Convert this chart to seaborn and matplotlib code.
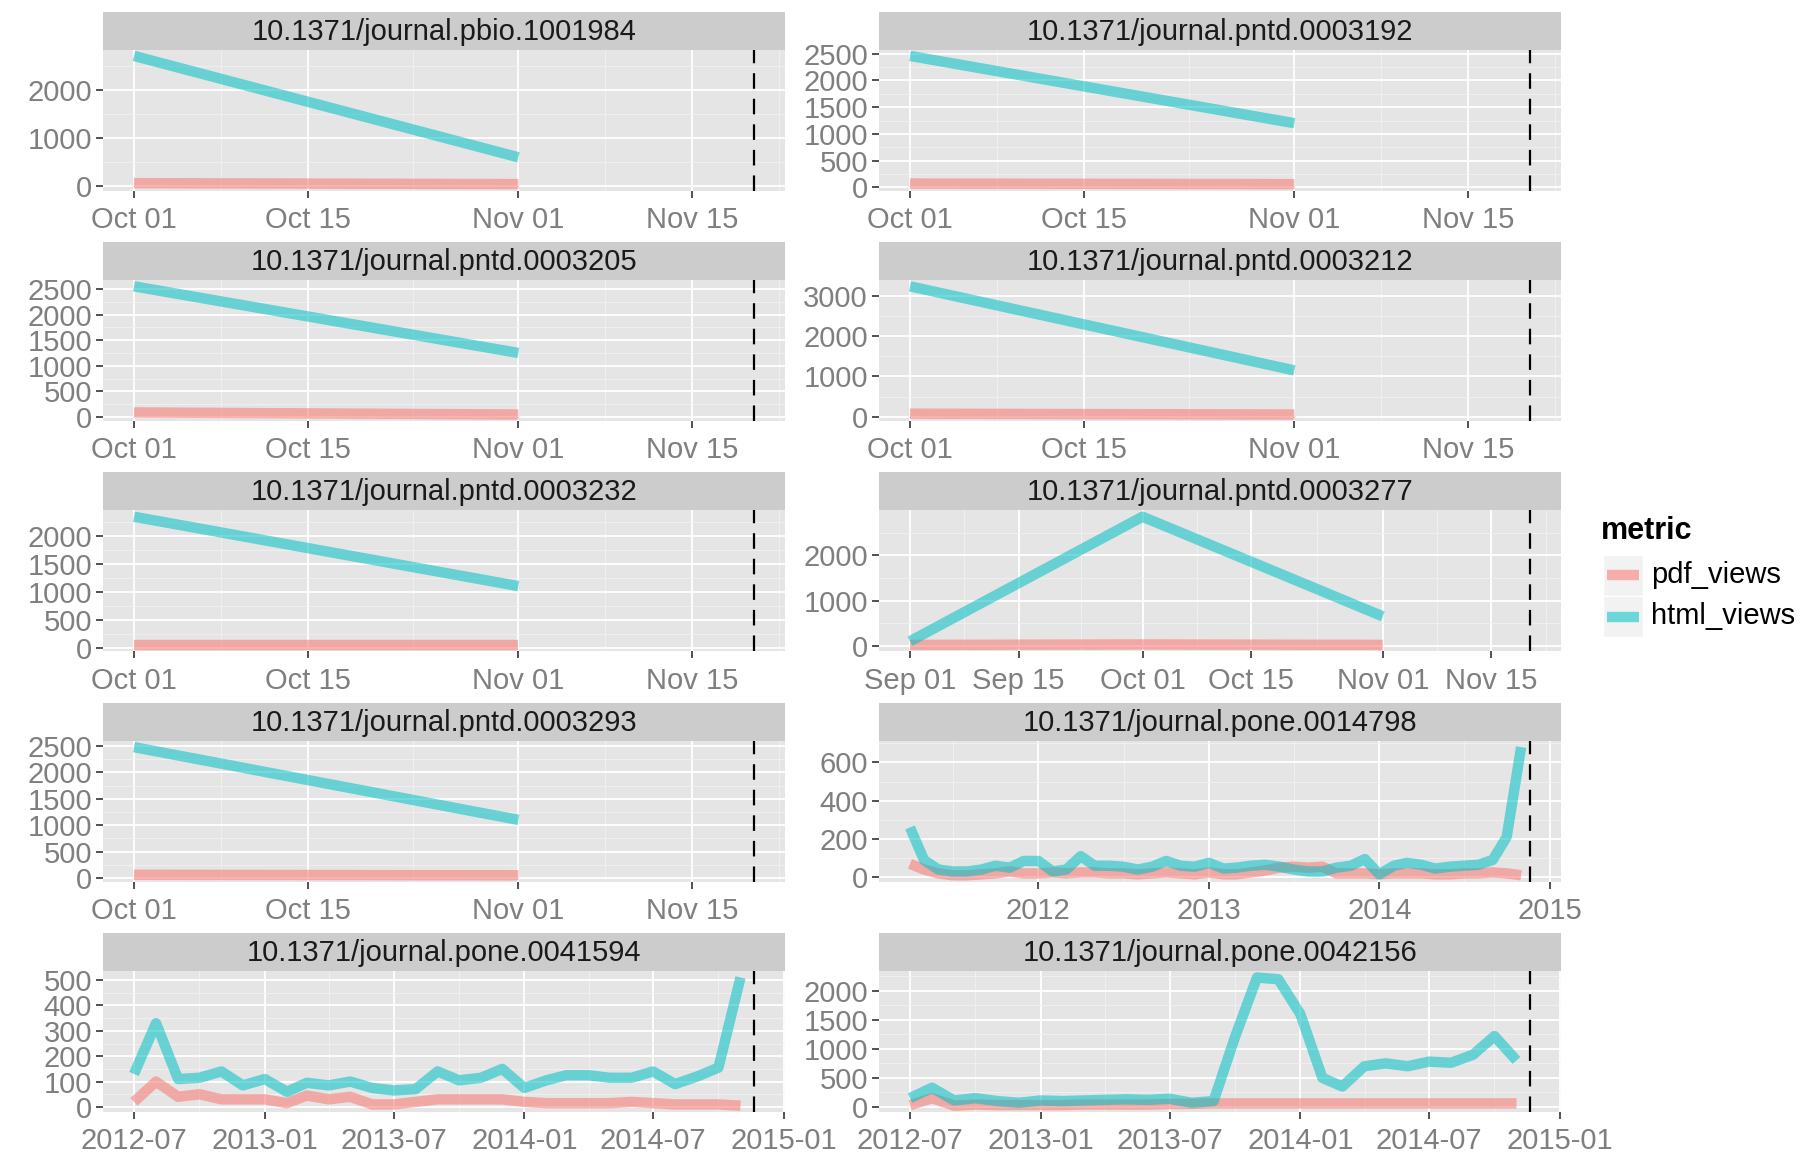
import matplotlib
matplotlib.use("Agg")
import matplotlib.pyplot as plt
import matplotlib.dates as mdates
from matplotlib.lines import Line2D
from matplotlib.patches import Rectangle
import numpy as np
import pandas as pd
import seaborn as sns

PINK = "#F8766D"
TEAL = "#00BFC4"
METRICS = ["pdf_views", "html_views"]
VLINE_DATE = "2014-11-20"

# monthly views per article
pbio_1001984_pdf = [60, 40]
pbio_1001984_html = [2720, 600]
pntd_0003192_pdf = [70, 60]
pntd_0003192_html = [2460, 1200]
pntd_0003205_pdf = [90, 50]
pntd_0003205_html = [2550, 1250]
pntd_0003212_pdf = [80, 60]
pntd_0003212_html = [3230, 1150]
pntd_0003232_pdf = [50, 50]
pntd_0003232_html = [2340, 1100]
pntd_0003277_pdf = [20, 30, 20]
pntd_0003277_html = [100, 2850, 650]
pntd_0003293_pdf = [60, 50]
pntd_0003293_html = [2480, 1100]
pone_0014798_pdf = [70, 40, 20, 10, 10, 15, 20, 30, 20, 20, 25, 20, 25, 25, 20,
                    20, 15, 20, 25, 20, 15, 25, 15, 15, 25, 35, 50, 55, 50, 55,
                    20, 20, 20, 15, 20, 20, 20, 15, 15, 20, 20, 25, 20, 10]
pone_0014798_html = [260, 90, 40, 30, 30, 40, 60, 50, 85, 85, 30, 40, 110, 60, 60,
                     55, 40, 55, 85, 60, 55, 75, 45, 50, 60, 65, 55, 40, 30, 30,
                     50, 60, 95, 15, 60, 75, 65, 45, 55, 60, 65, 90, 210, 680]
pone_0041594_pdf = [20, 100, 40, 50, 30, 30, 30, 15, 45, 30, 40, 10, 10, 20, 30,
                    30, 30, 30, 20, 15, 15, 15, 15, 20, 15, 10, 10, 10, 5]
pone_0041594_html = [130, 330, 110, 115, 140, 85, 110, 60, 95, 85, 100, 75, 65, 70,
                     140, 105, 115, 150, 75, 105, 125, 125, 115, 115, 140, 90, 120,
                     155, 510]
pone_0042156_pdf = [30, 150, 20, 40, 30, 30, 30, 30, 40, 40, 40, 40, 50, 50, 60,
                    60, 60, 60, 60, 60, 60, 60, 60, 60, 60, 60, 60, 60, 60]
pone_0042156_html = [150, 330, 110, 150, 100, 70, 110, 100, 110, 120, 130, 120, 140,
                     70, 100, 1200, 2230, 2200, 1600, 500, 350, 700, 750, 700, 780,
                     760, 900, 1220, 800]

TICKS_OCT = ["2014-10-01", "2014-10-15", "2014-11-01", "2014-11-15"]
TICKS_SEP = ["2014-09-01", "2014-09-15"] + TICKS_OCT
TICKS_YEAR = ["2012-01-01", "2013-01-01", "2014-01-01", "2015-01-01"]
TICKS_HALF = ["2012-07-01", "2013-01-01", "2013-07-01", "2014-01-01",
              "2014-07-01", "2015-01-01"]

Y_1000 = [0, 1000, 2000]
Y_500 = [0, 500, 1000, 1500, 2000, 2500]
Y_3000 = [0, 1000, 2000, 3000]
Y_2000 = [0, 500, 1000, 1500, 2000]
Y_600 = [0, 200, 400, 600]
Y_100 = [0, 100, 200, 300, 400, 500]

# title, first month, pdf, html, x ticks, x tick format, y ticks
PANELS = [
    ("10.1371/journal.pbio.1001984", "2014-10-01", pbio_1001984_pdf, pbio_1001984_html, TICKS_OCT, "%b %d", Y_1000),
    ("10.1371/journal.pntd.0003192", "2014-10-01", pntd_0003192_pdf, pntd_0003192_html, TICKS_OCT, "%b %d", Y_500),
    ("10.1371/journal.pntd.0003205", "2014-10-01", pntd_0003205_pdf, pntd_0003205_html, TICKS_OCT, "%b %d", Y_500),
    ("10.1371/journal.pntd.0003212", "2014-10-01", pntd_0003212_pdf, pntd_0003212_html, TICKS_OCT, "%b %d", Y_3000),
    ("10.1371/journal.pntd.0003232", "2014-10-01", pntd_0003232_pdf, pntd_0003232_html, TICKS_OCT, "%b %d", Y_2000),
    ("10.1371/journal.pntd.0003277", "2014-09-01", pntd_0003277_pdf, pntd_0003277_html, TICKS_SEP, "%b %d", Y_1000),
    ("10.1371/journal.pntd.0003293", "2014-10-01", pntd_0003293_pdf, pntd_0003293_html, TICKS_OCT, "%b %d", Y_500),
    ("10.1371/journal.pone.0014798", "2011-04-01", pone_0014798_pdf, pone_0014798_html, TICKS_YEAR, "%Y", Y_600),
    ("10.1371/journal.pone.0041594", "2012-07-01", pone_0041594_pdf, pone_0041594_html, TICKS_HALF, "%Y-%m", Y_100),
    ("10.1371/journal.pone.0042156", "2012-07-01", pone_0042156_pdf, pone_0042156_html, TICKS_HALF, "%Y-%m", Y_2000),
]

sns.set_theme(style="darkgrid", rc={
    "axes.facecolor": "#E5E5E5",
    "grid.color": "white",
    "figure.facecolor": "white",
})
plt.rcParams["font.family"] = ["Liberation Sans", "DejaVu Sans"]

FS = 21
LW = 7.5
ALPHA = 0.55
W, H = 1802, 1155
fig = plt.figure(figsize=(W / 100, H / 100), dpi=100)

COL_X = [103, 879]
PANEL_W = 682
STRIP_H = 38
PANEL_H = 141
ROW_TOP = 11.5
ROW_PITCH = 230.4


def midpoints(vals):
    vals = np.asarray(vals, dtype=float)
    step0 = vals[1] - vals[0]
    step1 = vals[-1] - vals[-2]
    ext = np.concatenate([[vals[0] - step0], vals, [vals[-1] + step1]])
    return (ext[:-1] + ext[1:]) / 2


vline = mdates.date2num(pd.Timestamp(VLINE_DATE))

for k, (title, start, pdf, html, xticks, fmt, yticks) in enumerate(PANELS):
    row, col = divmod(k, 2)
    top = ROW_TOP + ROW_PITCH * row
    x0 = COL_X[col]

    sax = fig.add_axes([x0 / W, 1 - (top + STRIP_H) / H, PANEL_W / W, STRIP_H / H])
    sax.set_facecolor("#CCCCCC")
    sax.set_xticks([])
    sax.set_yticks([])
    sax.grid(False)
    for s in sax.spines.values():
        s.set_visible(False)
    sax.text(0.5, 0.47, title, ha="center", va="center", fontsize=FS,
             color="#1A1A1A", transform=sax.transAxes)

    ax = fig.add_axes([x0 / W, 1 - (top + STRIP_H + PANEL_H) / H, PANEL_W / W, PANEL_H / H])
    dates = pd.date_range(start, periods=len(pdf), freq="MS")
    df = pd.DataFrame({
        "date": np.concatenate([dates, dates]),
        "views": pdf + html,
        "metric": ["pdf_views"] * len(pdf) + ["html_views"] * len(html),
    })
    sns.lineplot(data=df, x="date", y="views", hue="metric", hue_order=METRICS,
                 palette=[PINK, TEAL], linewidth=LW, alpha=ALPHA, legend=False,
                 errorbar=None, ax=ax, solid_capstyle="butt", solid_joinstyle="round")
    ax.axvline(vline, color="black", lw=1.6, ls=(0, (7, 4.5)))

    xt = [mdates.date2num(pd.Timestamp(d)) for d in xticks]
    ax.set_xticks(xt)
    ax.set_xticklabels([pd.Timestamp(d).strftime(fmt) for d in xticks])
    ax.set_xticks(midpoints(xt), minor=True)
    ax.set_yticks(yticks)
    ax.set_yticklabels([str(v) for v in yticks])
    ax.set_yticks(midpoints(yticks), minor=True)

    # ggplot-style 5% expansion, applied after ticks so they don't widen it
    dmin = mdates.date2num(dates[0])
    span = vline - dmin
    ax.set_xlim(dmin - 0.05 * span, vline + 0.05 * span)
    ymin = min(min(pdf), min(html))
    ymax = max(max(pdf), max(html))
    r = ymax - ymin
    ax.set_ylim(ymin - 0.05 * r, ymax + 0.05 * r)

    ax.grid(which="major", color="white", lw=1.3)
    ax.grid(which="minor", color="#F2F2F2", lw=0.6)
    ax.set_axisbelow(True)
    ax.tick_params(which="major", length=5, width=1.2, color="#333333",
                   labelcolor="#7F7F7F", labelsize=FS, pad=3)
    ax.tick_params(axis="x", which="major", pad=6)
    ax.tick_params(which="minor", length=0)
    ax.tick_params(axis="both", which="both", bottom=True, left=True)
    ax.set_xlabel("")
    ax.set_ylabel("")
    for s in ax.spines.values():
        s.set_visible(False)

# legend
fig.text(1601 / W, 1 - 531 / H, "metric", fontsize=FS + 1, fontweight="bold",
         color="black", ha="left", va="center")
key_x, key_w, key_h = 1603, 40, 41
for i, (name, color) in enumerate(zip(METRICS, [PINK, TEAL])):
    ky = 555 + i * key_h
    fig.add_artist(Rectangle((key_x / W, 1 - (ky + key_h) / H), key_w / W, key_h / H,
                             transform=fig.transFigure, facecolor="#F2F2F2",
                             edgecolor="white", lw=1))
    cy = 1 - (ky + key_h / 2) / H
    fig.add_artist(Line2D([(key_x + 4) / W, (key_x + key_w - 4) / W], [cy, cy],
                          transform=fig.transFigure, color=color, lw=LW, alpha=ALPHA,
                          solid_capstyle="butt"))
    fig.text((key_x + key_w + 8) / W, cy, name, fontsize=FS, color="black",
             ha="left", va="center")

fig.savefig("out.png", dpi=100)
